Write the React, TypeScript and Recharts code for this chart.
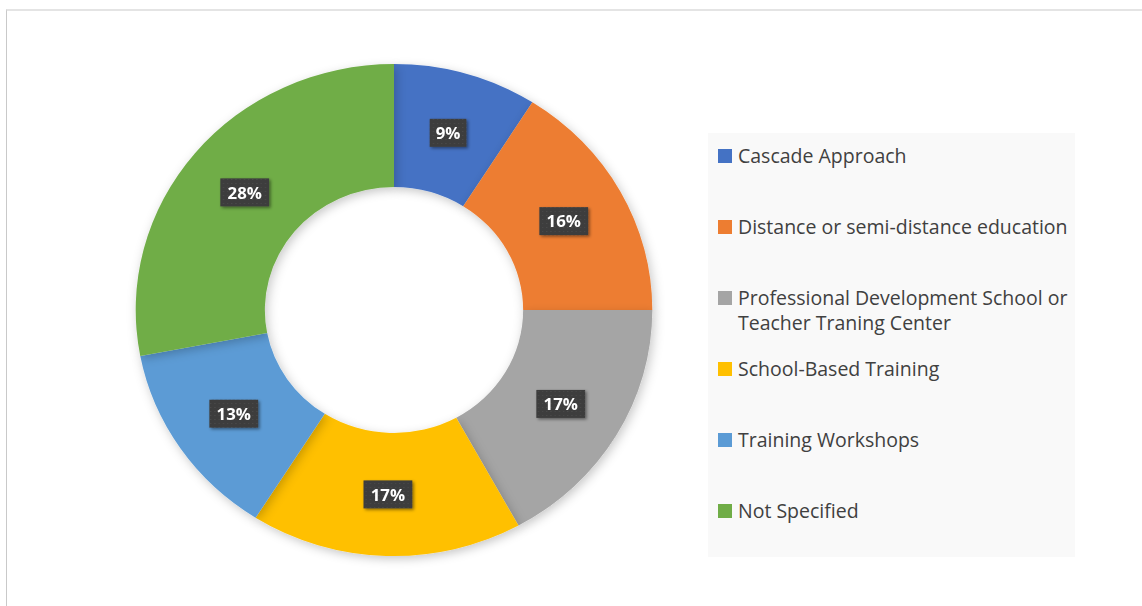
import { Cell, Pie, PieChart } from "recharts";

// 数据:各培训方式占比(%)
const categories = [
  "Cascade Approach",
  "Distance or semi-distance education",
  "Professional Development School or Teacher Traning Center",
  "School-Based Training",
  "Training Workshops",
  "Not Specified",
];
const shares = [9, 16, 17, 17, 13, 28];
const colors = ["#4472C4", "#ED7D31", "#A5A5A5", "#FFC000", "#5B9BD5", "#70AD47"];

const FONT = "'Open Sans', 'Noto Sans', sans-serif";
const RAD = Math.PI / 180;

const slices = categories.map((name, i) => ({ name, value: shares[i] }));

// 数据标签:深色方块 + 白色粗体百分比,放在环的中线上
function renderLabel(props: any) {
  const { cx, cy, midAngle, innerRadius, outerRadius, value } = props;
  const r = (innerRadius + outerRadius) / 2;
  const x = cx + r * Math.cos(-midAngle * RAD);
  const y = cy + r * Math.sin(-midAngle * RAD);
  const text = `${value}%`;
  const w = text.length * 11.5 + 12;
  const h = 28;
  return (
    <g>
      <rect
        x={x - w / 2}
        y={y - h / 2}
        width={w}
        height={h}
        fill="url(#lblPattern)"
        filter="url(#lblShadow)"
      />
      <text
        x={x}
        y={y}
        fill="#ffffff"
        textAnchor="middle"
        dominantBaseline="central"
        fontFamily={FONT}
        fontWeight={700}
        fontSize={16}
      >
        {text}
      </text>
    </g>
  );
}

export default function App() {
  return (
    <div
      style={{
        position: "absolute",
        left: 0,
        top: 0,
        width: 1142,
        height: 606,
        background: "#ffffff",
        overflow: "hidden",
      }}
    >
      {/* 图表外框(只露出上边和左边) */}
      <div
        style={{
          position: "absolute",
          left: 6,
          top: 9,
          width: 1200,
          height: 700,
          borderLeft: "1px solid #c9c9c9",
          borderTop: "2px solid #e4e4e4",
        }}
      />

      {/* 环形图:原图略微横向拉伸 */}
      <div
        style={{
          position: "absolute",
          left: 113.5,
          top: 29.5,
          width: 560,
          height: 560,
          transform: "scaleX(1.05)",
          transformOrigin: "280px 280px",
        }}
      >
        <PieChart width={560} height={560} margin={{ top: 0, right: 0, bottom: 0, left: 0 }}>
          <defs>
            <pattern id="lblPattern" width="4" height="4" patternUnits="userSpaceOnUse">
              <rect width="4" height="4" fill="#3d3d3d" />
              <rect x="1" y="1" width="1" height="1" fill="#4b4b4b" />
            </pattern>
            <filter id="lblShadow" x="-30%" y="-30%" width="160%" height="160%">
              <feDropShadow dx="1.5" dy="1.5" stdDeviation="1.5" floodColor="#000" floodOpacity="0.45" />
            </filter>
            <filter id="ringShadow" x="-10%" y="-10%" width="120%" height="120%">
              <feDropShadow dx="2" dy="3" stdDeviation="5" floodColor="#000" floodOpacity="0.22" />
            </filter>
          </defs>
          <Pie
            data={slices}
            dataKey="value"
            nameKey="name"
            cx={280}
            cy={280}
            innerRadius={123}
            outerRadius={246}
            startAngle={90}
            endAngle={-270}
            stroke="none"
            label={renderLabel}
            labelLine={false}
            isAnimationActive={false}
            style={{ filter: "url(#ringShadow)" }}
          >
            {slices.map((s, i) => (
              <Cell key={s.name} fill={colors[i]} />
            ))}
          </Pie>
        </PieChart>
      </div>

      {/* 图例 */}
      <div
        style={{
          position: "absolute",
          left: 708,
          top: 133,
          width: 367,
          height: 424,
          background: "#f9f9f9",
          fontFamily: FONT,
          fontSize: 19.5,
          color: "#404040",
        }}
      >
        {categories.map((name, i) => (
          <div
            key={name}
            style={{
              position: "absolute",
              left: 10,
              top: 10 + i * 71,
              display: "flex",
              alignItems: "flex-start",
            }}
          >
            <span
              style={{
                display: "inline-block",
                flex: "none",
                width: 14,
                height: 14,
                marginTop: 6,
                background: colors[i],
              }}
            />
            <span style={{ marginLeft: 6, width: 345, lineHeight: "25px" }}>{name}</span>
          </div>
        ))}
      </div>
    </div>
  );
}
